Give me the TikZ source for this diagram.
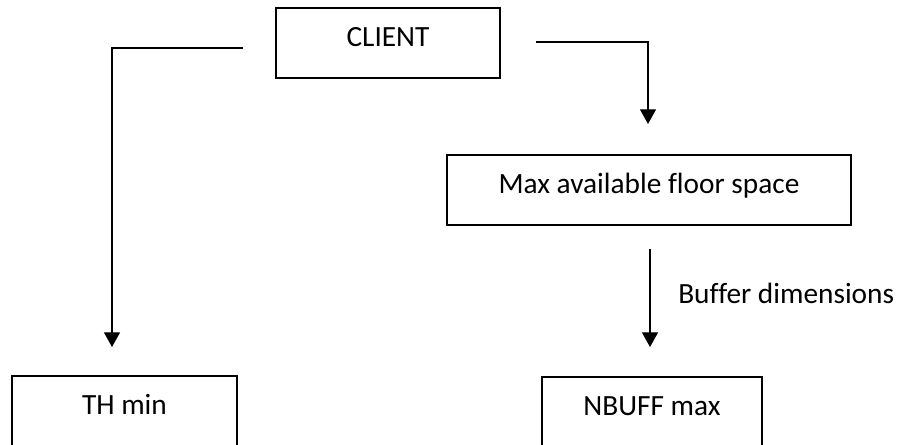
\documentclass[tikz,border=0pt]{standalone}
\usepackage{fontspec}
\setmainfont[Ligatures=NoCommon]{Carlito}
\usetikzlibrary{arrows.meta}

\tikzset{
	box/.style={draw, line width=1.5pt, inner sep=0pt, minimum height=70*0.75pt, text height=0.7em, text depth=0.21em, font=\fontsize{22}{26}\selectfont},
	flow/.style={line width=0.9pt, -{Triangle[length=11pt,width=12pt]}}
}

\begin{document}
\begin{tikzpicture}[x=0.75pt, y=-0.75pt]
			\useasboundingbox (0, 0) rectangle (899, 445);
			\clip (0, 0) rectangle (899, 445);

			\node[box, minimum width=224*0.75pt]	(client)	at (388, 43)	{CLIENT};
			\node[box, minimum width=404*0.75pt]	(space)		at (649, 190)	{Max available floor space};
			\node[box, minimum width=225*0.75pt]	(thmin)		at (124.5, 411)	{TH min};
			\node[box, minimum width=220*0.75pt]	(nbuff)		at (652, 412)	{NBUFF max};

			\coordinate (leftstart)		at (243, 48);
			\coordinate (leftend)		at (112, 347);
			\coordinate (rightstart)	at (536, 42);
			\coordinate (rightend)		at (648, 124);
			\coordinate (bufstart)		at (650, 249);
			\coordinate (bufend)		at (650, 347);

			\draw[flow]	(leftstart) -| (leftend);
			\draw[flow]	(rightstart) -| (rightend);
			\draw[flow]	(bufstart) to (bufend);

			\node[anchor=west, inner sep=0pt, font=\fontsize{22}{26}\selectfont] (buflabel) at (678, 293) {Buffer dimensions};
		\end{tikzpicture}
\end{document}
